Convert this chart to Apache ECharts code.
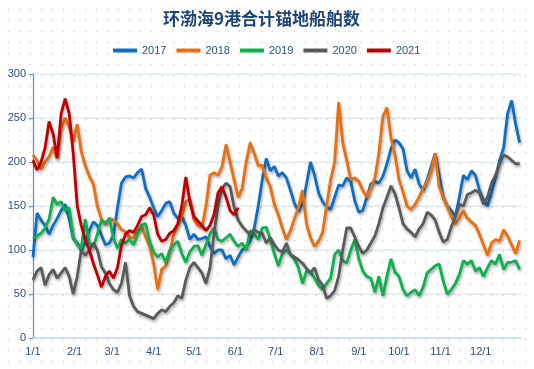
<!DOCTYPE html>
<html>
<head>
<meta charset="utf-8">
<script src="https://cdn.jsdelivr.net/npm/echarts@6/dist/echarts.min.js"></script>
<style>
html,body{margin:0;padding:0;background:#fff;}
#c{width:534px;height:369px;
background-image:radial-gradient(circle, #d6d6d6 0.8px, transparent 1.1px);
background-size:11px 11px;background-position:3px 4px;}
</style>
</head>
<body>
<div id="c"></div>
<script>
// Category labels: each day of the year (m/d); month starts get a tick label
const monthLengths = [31,28,31,30,31,30,31,31,30,31,30,31];
const days = [];
monthLengths.forEach((n, m) => { for (let d = 1; d <= n; d++) days.push((m + 1) + '/' + d); });

// Values read every 3rd day starting 1/1
const sampleStep = 3;
const seriesNames = ['2017','2018','2019','2020','2021'];
const yTicks = [0, 50, 100, 150, 200, 250, 300];

const v2017 = [
92,142,134,128,118,128,136,145,152,135,
113,108,100,108,122,132,128,117,106,108,
117,148,176,183,184,182,188,192,170,160,
148,138,145,153,155,142,136,138,128,112,
118,112,113,115,104,96,100,100,90,94,
83,92,100,104,110,125,150,180,204,190,
195,184,188,182,168,153,144,152,175,200,
185,165,155,149,146,160,174,173,182,178,
156,143,145,160,175,178,176,184,198,215,
225,222,215,190,182,192,175,168,180,195,
210,185,160,150,145,138,160,185,180,190,
185,168,157,150,165,182,202,216,255,270,
243,222];

const v2018 = [
208,202,192,200,206,217,204,238,250,240,
224,243,212,196,184,175,150,135,130,136,
134,130,123,121,114,114,122,127,115,104,
85,55,78,82,98,118,128,138,155,158,
135,128,126,150,185,188,185,195,220,200,
180,160,170,200,222,210,196,196,182,172,
152,140,125,112,122,136,148,168,130,114,
104,110,120,150,180,200,268,222,202,180,
182,178,168,160,170,182,210,252,262,228,
208,180,166,150,146,152,160,170,178,190,
210,172,160,149,138,130,136,145,136,132,
128,118,106,94,108,112,110,123,116,106,
96,111];

const v2019 = [
113,116,119,125,135,160,152,155,145,148,
115,106,102,135,108,104,118,134,130,136,
114,102,112,108,112,106,118,128,130,110,
98,92,96,86,100,106,110,96,86,98,
104,105,94,106,118,125,112,110,114,118,
110,104,108,100,122,118,112,125,126,112,
96,82,96,100,95,90,80,62,76,75,
68,60,55,62,68,95,100,88,85,100,
112,90,76,70,68,52,70,48,70,90,
75,70,55,48,52,55,48,58,74,78,
82,84,65,50,55,62,72,88,84,88,
76,80,70,80,88,84,95,78,86,86,
88,78];

const v2020 = [
66,76,80,60,72,78,68,74,80,70,
50,70,100,94,100,108,100,81,74,62,
55,52,62,86,48,36,30,28,26,24,
22,28,32,30,36,40,48,45,66,80,
86,80,74,62,80,118,150,170,176,172,
149,134,127,122,117,123,120,119,108,114,
106,100,98,108,95,92,89,85,79,74,
80,66,60,45,48,54,70,100,125,125,
115,104,96,100,108,116,130,148,160,173,
164,148,130,124,120,115,124,130,143,140,
134,120,109,112,126,138,152,150,163,165,
168,165,152,160,176,185,198,208,206,202,
198,198];

const v2021 = [
202,191,200,216,246,232,205,255,272,255,
210,150,128,112,100,85,72,58,70,76,
68,80,105,118,122,120,128,138,140,148,
140,118,110,112,119,122,130,150,183,155,
138,133,128,122,128,140,165,172,160,145,
140,148];

const colors = ['#0c6fc4', '#ea700d', '#0fb050', '#5a5a5a', '#c00000'];
const allValues = [v2017, v2018, v2019, v2020, v2021];

function toDaily(vals) {
  const out = new Array(days.length).fill(null);
  vals.forEach((v, i) => { out[i * sampleStep] = v; });
  return out;
}

const chart = echarts.init(document.getElementById('c'));
const labelColor = '#2d4f86';
chart.setOption({
  animation: false,
  title: {
    text: '环渤海9港合计锚地船舶数',
    left: 163, top: 10, padding: 0,
    textStyle: { fontSize: 17, fontWeight: 'bold', color: '#1f4477', fontFamily: 'Noto Sans CJK SC' }
  },
  legend: {
    data: seriesNames,
    left: 113, top: 45, padding: 0,
    icon: 'rect', itemWidth: 24, itemHeight: 4, itemGap: 10,
    textStyle: { fontSize: 11, color: labelColor, fontFamily: 'Liberation Sans' }
  },
  grid: { left: 33, right: 13, top: 74, bottom: 31 },
  xAxis: {
    type: 'category',
    data: days,
    boundaryGap: false,
    axisLine: { lineStyle: { color: '#c9daf0', width: 1.5 } },
    axisTick: { show: false },
    axisLabel: {
      interval: (idx, val) => /\/1$/.test(val),
      color: labelColor, fontSize: 11, fontFamily: 'Liberation Sans', margin: 8
    },
    splitLine: { show: false }
  },
  yAxis: {
    type: 'value',
    min: yTicks[0], max: yTicks[yTicks.length - 1], interval: yTicks[1] - yTicks[0],
    axisLine: { show: true, lineStyle: { color: '#5d8bc8', width: 1.2 } },
    axisTick: { show: true, length: 4, lineStyle: { color: '#5d8bc8' } },
    axisLabel: { color: labelColor, fontSize: 11, fontFamily: 'Liberation Sans', margin: 7 },
    splitLine: { lineStyle: { color: '#dfe8f4', width: 1.5 } }
  },
  series: seriesNames.map((name, i) => ({
    name,
    type: 'line',
    data: toDaily(allValues[i]),
    connectNulls: true,
    showSymbol: false,
    symbol: 'none',
    color: colors[i],
    lineStyle: {
      width: 2.8, color: colors[i],
      shadowColor: 'rgba(0,0,0,0.35)', shadowBlur: 3, shadowOffsetX: 1, shadowOffsetY: 2
    }
  }))
});
</script>
</body>
</html>
